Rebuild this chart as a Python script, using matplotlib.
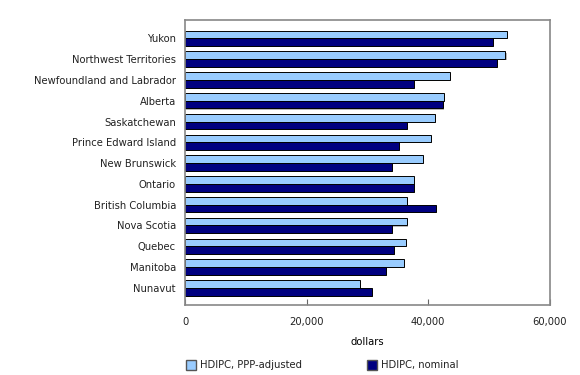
import numpy as np
import matplotlib
matplotlib.use("Agg")
import matplotlib.pyplot as plt
import matplotlib.patheffects as pe
from matplotlib.ticker import FuncFormatter
from matplotlib.patches import Patch

# Data (dollars)
provinces = ["Yukon", "Northwest Territories", "Newfoundland and Labrador", "Alberta",
             "Saskatchewan", "Prince Edward Island", "New Brunswick", "Ontario",
             "British Columbia", "Nova Scotia", "Quebec", "Manitoba", "Nunavut"]
ppp_adjusted = [53000, 52700, 43500, 42600, 41100, 40400, 39200, 37700,
                36500, 36500, 36300, 36000, 28700]
nominal = [50600, 51300, 37700, 42400, 36500, 35200, 34000, 37700,
           41200, 34000, 34400, 33100, 30800]

light = "#99CCFF"
dark = "#000080"

plt.rcParams["font.family"] = "DejaVu Sans"
plt.rcParams["font.size"] = 7.2
plt.rcParams["text.color"] = "#222222"
plt.rcParams["xtick.color"] = "#222222"
plt.rcParams["ytick.color"] = "#222222"

fig = plt.figure(figsize=(5.8, 3.75), dpi=100)
ax = fig.add_axes([0.319, 0.187, 0.629, 0.760])

y = np.arange(len(provinces))
h = 0.37
shadow = [pe.SimplePatchShadow(offset=(0.8, -0.8), shadow_rgbFace="#999999", alpha=0.7), pe.Normal()]

b1 = ax.barh(y - h / 2, ppp_adjusted, height=h, color=light, edgecolor="black", linewidth=0.7)
b2 = ax.barh(y + h / 2, nominal, height=h, color=dark, edgecolor="black", linewidth=0.7)
for bar in list(b1) + list(b2):
    bar.set_path_effects(shadow)

ax.set_yticks(y)
ax.set_yticklabels(provinces)
ax.set_ylim(12.82, -0.89)
ax.set_xlim(0, 60000)
ax.set_xticks([0, 20000, 40000, 60000])
ax.xaxis.set_major_formatter(FuncFormatter(lambda v, p: f"{int(v):,}"))
ax.tick_params(axis="y", length=0, pad=6.5)
ax.tick_params(axis="x", direction="in", length=4, color="#666666", pad=9)
for s in ax.spines.values():
    s.set_color("#888888")
    s.set_linewidth(1.2)

ax.set_xlabel("dollars", labelpad=7)

handles = [Patch(facecolor=light, edgecolor="#555555", label="HDIPC, PPP-adjusted"),
           Patch(facecolor=dark, edgecolor="#555555", label="HDIPC, nominal")]
fig.legend(handles=[handles[0]], loc="center left", bbox_to_anchor=(0.305, 0.027),
           frameon=False, handlelength=1.0, handleheight=1.2, handletextpad=0.4)
fig.legend(handles=[handles[1]], loc="center left", bbox_to_anchor=(0.618, 0.027),
           frameon=False, handlelength=1.0, handleheight=1.2, handletextpad=0.4)

fig.savefig("out.png", dpi=100)
